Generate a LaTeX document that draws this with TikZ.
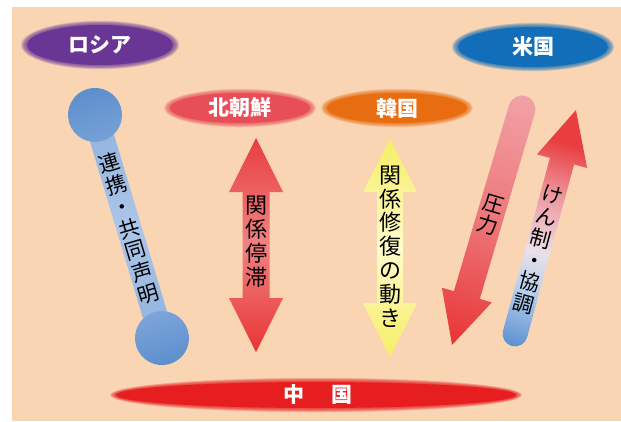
\documentclass[tikz,border=0pt]{standalone}
\usepackage{fontspec}
\newfontfamily\jp{Noto Sans CJK JP}
\definecolor{bg}{RGB}{249,213,180}
\definecolor{cRus}{RGB}{106,54,150}
\definecolor{cUsa}{RGB}{18,110,184}
\definecolor{cNk}{RGB}{232,78,88}
\definecolor{cSk}{RGB}{232,108,16}
\definecolor{cCn}{RGB}{230,30,32}
\definecolor{blueDark}{RGB}{92,143,205}
\definecolor{blueMid}{RGB}{125,165,217}
\definecolor{blueBar}{RGB}{172,198,232}
\definecolor{blueBarEnd}{RGB}{145,178,222}
\definecolor{redEnd}{RGB}{232,62,64}
\definecolor{redMid}{RGB}{241,130,130}
\definecolor{yelEnd}{RGB}{245,238,100}
\definecolor{yelMid}{RGB}{255,251,202}
\definecolor{pinkTop}{RGB}{241,162,166}
\definecolor{pinkMid}{RGB}{237,118,122}
\definecolor{redBot}{RGB}{232,52,52}
\definecolor{paleMid}{RGB}{234,224,232}
\definecolor{pinkK}{RGB}{238,150,158}
\definecolor{lightBlue}{RGB}{185,208,236}
\definecolor{blueBot}{RGB}{90,145,210}
\pgfdeclareverticalshading{kensei}{100bp}{color(0bp)=(blueBot); color(25bp)=(blueBot); color(37bp)=(lightBlue); color(45bp)=(paleMid); color(57bp)=(pinkK); color(68bp)=(redEnd); color(100bp)=(redEnd)}
\tikzset{
  lbl/.style={text=white, font=\jp\bfseries\fontsize{21}{24}\selectfont, inner sep=0pt},
  vtxt/.style={text=black, font=\jp\fontsize{21}{23}\selectfont, align=center, inner sep=0pt},
}
\newcommand\softell[5]{%
  \foreach \k in {1,...,6}{\fill[#1,opacity=0.2] (#2,#3) ellipse [x radius={#4+7-\k}, y radius={#5+(7-\k)*0.7}];}
  \fill[#1] (#2,#3) ellipse [x radius=#4, y radius=#5];
}
\begin{document}
\begin{tikzpicture}[x=1pt,y=-1pt]
\useasboundingbox (0,0) rectangle (621,421);
\fill[bg] (12,7) rectangle (621,421);

% ellipses
\softell{cRus}{100}{45}{73}{20}
\softell{cUsa}{533}{47}{75}{20}
\softell{cNk}{240}{108}{70}{15}
\softell{cSk}{397}{108}{70}{15}
\softell{cCn}{316}{395}{200}{13}
\node[lbl] (russia) at (100,45) {ロシア};
\node[lbl] (usa) at (533,47) {米国};
\node[lbl] (nk) at (240,108) {北朝鮮};
\node[lbl] (sk) at (397,108) {韓国};
\node[lbl] (china) at (318,395) {中\hspace{1.25em}国};

% blue dumbbell
\begin{scope}[transform canvas={shift={(128.5,226.5)}, rotate=16.7}]
  \shade[top color=blueBarEnd, bottom color=blueBarEnd, middle color=blueBar] (-12.5,-116.5) rectangle (12.5,116.5);
  \shade[top color=blueDark, bottom color=blueMid!80!blueDark] (0,-116.5) circle (27pt);
  \shade[top color=blueMid, bottom color=blueDark] (0,116.5) circle (27pt);
  \node[vtxt, font=\jp\fontsize{21}{22.7}\selectfont] (t1) at (0,2) {連\\携\\・\\共\\同\\声\\明};
\end{scope}

% red double arrow
\shade[top color=redEnd, bottom color=redBot, middle color=redMid]
  (256,138) -- (283,192) -- (269.5,192) -- (269.5,298) -- (283,298) -- (256,352)
  -- (229,298) -- (242.5,298) -- (242.5,192) -- (229,192) -- cycle;
\node[vtxt, font=\jp\fontsize{22}{24}\selectfont] (t2) at (256,241.5) {関\\係\\停\\滞};

% yellow double arrow
\shade[top color=yelEnd, bottom color=yelEnd, middle color=yelMid]
  (390,139) -- (417,192) -- (403,192) -- (403,303) -- (417,303) -- (390,357)
  -- (363,303) -- (377,303) -- (377,192) -- (363,192) -- cycle;
\node[vtxt, font=\jp\fontsize{22}{23.8}\selectfont] (t3) at (390,246.5) {関\\係\\修\\復\\の\\動\\き};

% pressure arrow
\begin{scope}[transform canvas={shift={(487,227)}, rotate=-16.5}]
  \shade[top color=pinkTop, bottom color=redBot, middle color=pinkMid]
    (-13.5,-123) .. controls (-13.5,-130.46) and (-7.46,-136.5) .. (0,-136.5)
    .. controls (7.46,-136.5) and (13.5,-130.46) .. (13.5,-123)
    -- (13.5,71) -- (26,71) -- (0,123) -- (-26,71) -- (-13.5,71) -- cycle;
  \node[vtxt, font=\jp\fontsize{21}{22.5}\selectfont] (t4) at (0,-12.5) {圧\\力};
\end{scope}

% restraint / cooperation arrow
\begin{scope}[transform canvas={shift={(545.5,222)}, rotate=-15.2}]
  \shade[shading=kensei]
    (0,-116) -- (26,-63) -- (12.5,-63) -- (12.5,116)
    .. controls (12.5,122.9) and (6.9,128.5) .. (0,128.5)
    .. controls (-6.9,128.5) and (-12.5,122.9) .. (-12.5,116)
    -- (-12.5,-63) -- (-26,-63) -- cycle;
  \node[vtxt, font=\jp\fontsize{21}{22.5}\selectfont] (t5) at (0,29) {け\\ん\\制\\・\\協\\調};
\end{scope}
\end{tikzpicture}
\end{document}
